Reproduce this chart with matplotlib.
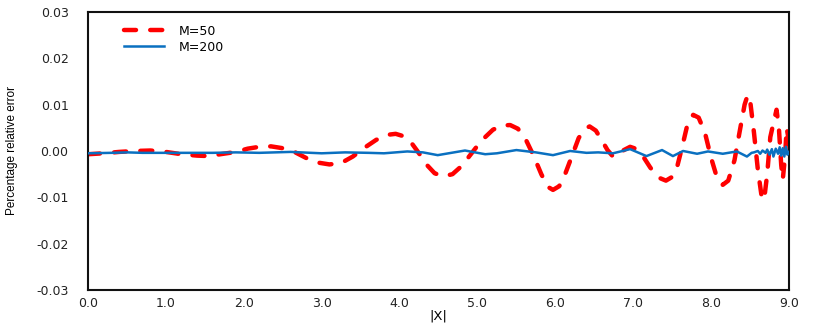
import matplotlib
matplotlib.use("Agg")
import matplotlib.pyplot as plt
from matplotlib.ticker import FixedLocator, FuncFormatter

# ---- data ----
m50_x = [0.0, 0.2, 0.4, 0.6, 0.8, 1.0, 1.2, 1.4, 1.55, 1.7, 1.9, 2.05, 2.2, 2.35, 2.5,
         2.65, 2.8, 2.95, 3.1, 3.25, 3.4, 3.55, 3.7, 3.85, 3.95, 4.05, 4.15, 4.25, 4.35,
         4.45, 4.56, 4.68, 4.8, 4.92, 5.05, 5.2, 5.32, 5.42, 5.52, 5.62, 5.72, 5.82, 5.9,
         5.97, 6.05, 6.13, 6.22, 6.3, 6.38, 6.44, 6.52, 6.6, 6.67, 6.74, 6.8, 6.88, 6.96,
         7.03, 7.12, 7.22, 7.32, 7.42, 7.5, 7.57, 7.63, 7.7, 7.77, 7.84, 7.92, 8.0, 8.08,
         8.15, 8.22, 8.3, 8.37, 8.43, 8.47, 8.5, 8.55, 8.6, 8.65, 8.68, 8.72, 8.76, 8.8,
         8.84, 8.87, 8.9, 8.92, 8.95, 8.97, 8.99, 9.0]
m50_y = [-0.0007, -0.0005, -0.0002, 0.0, 0.0001, -0.0002, -0.0007, -0.0010, -0.0011,
         -0.0007, -0.0002, 0.0005, 0.0009, 0.0010, 0.0006, -0.0002, -0.0015, -0.0025,
         -0.0029, -0.0026, -0.0012, 0.0007, 0.0024, 0.0035, 0.0037, 0.0032, 0.0018,
         -0.0005, -0.0030, -0.0048, -0.0055, -0.0050, -0.0032, -0.0006, 0.0022, 0.0046,
         0.0055, 0.0056, 0.0048, 0.0025, -0.0010, -0.0050, -0.0077, -0.0084, -0.0076,
         -0.0048, -0.0008, 0.0028, 0.0048, 0.0053, 0.0044, 0.0022, 0.0002, -0.0012,
         -0.0010, 0.0002, 0.0009, 0.0005, -0.0010, -0.0036, -0.0057, -0.0064, -0.0056,
         -0.0030, 0.0010, 0.0060, 0.0078, 0.0072, 0.0040, -0.0015, -0.0060, -0.0073,
         -0.0064, -0.0020, 0.0045, 0.0100, 0.0121, 0.0110, 0.0040, -0.0040, -0.0100,
         -0.0106, -0.0050, 0.0030, 0.0060, 0.0089, 0.0050, -0.0030, -0.0062, -0.0010,
         0.0050, 0.0030, -0.0010]

m200_x = [0.0, 0.3, 0.5, 0.7, 1.0, 1.3, 1.6, 1.9, 2.2, 2.6, 3.0, 3.3, 3.6, 3.8, 4.1,
          4.3, 4.49, 4.84, 5.1, 5.25, 5.5, 5.75, 5.97, 6.19, 6.4, 6.55, 6.74, 6.96, 7.17,
          7.37, 7.51, 7.64, 7.82, 7.96, 8.15, 8.33, 8.46, 8.52, 8.55, 8.6, 8.63, 8.66,
          8.7, 8.72, 8.75, 8.78, 8.8, 8.83, 8.86, 8.88, 8.9, 8.92, 8.94, 8.96, 8.98, 9.0]
m200_y = [-0.0005, -0.0004, -0.0003, -0.0004, -0.0004, -0.0004, -0.0004, -0.0003,
          -0.0004, -0.0002, -0.0005, -0.0003, -0.0004, -0.0005, -0.0001, -0.0003,
          -0.0009, 0.0001, -0.0007, -0.0005, 0.0002, -0.0003, -0.0009, 0.0000, -0.0004,
          -0.0003, -0.0005, 0.0004, -0.0011, 0.0002, -0.0011, 0.0000, -0.0006, -0.0001,
          -0.0006, -0.0001, -0.0012, -0.0004, -0.0003, 0.0000, -0.0006, 0.0001, -0.0004,
          0.0003, -0.0008, 0.0004, -0.0012, 0.0005, -0.0006, 0.0008, -0.0010, 0.0006,
          -0.0012, 0.0009, -0.0008, -0.0002]

x_ticks = [0, 1, 2, 3, 4, 5, 6, 7, 8, 9]
y_ticks = [-0.03, -0.02, -0.01, 0.0, 0.01, 0.02, 0.03]
series_labels = ["M=50", "M=200"]

# ---- figure ----
fig = plt.figure(figsize=(8.3, 3.24), dpi=100)
ax = fig.add_axes([0.106, 0.105, 0.8446, 0.858])

ax.plot(m50_x, m50_y, color="#ff0000", lw=3.2, dashes=(2.7, 3.2),
        dash_capstyle="round", label=series_labels[0], zorder=2)
ax.plot(m200_x, m200_y, color="#0a70c0", lw=1.8, label=series_labels[1], zorder=3)

ax.set_xlim(0, 9)
ax.set_ylim(-0.03, 0.03)
ax.xaxis.set_major_locator(FixedLocator(x_ticks))
ax.yaxis.set_major_locator(FixedLocator(y_ticks))
ax.xaxis.set_major_formatter(FuncFormatter(lambda v, p: f"{v:.1f}"))
ax.yaxis.set_major_formatter(FuncFormatter(lambda v, p: f"{v:.2f}".replace("\u2212", "-")))
ax.tick_params(axis="both", length=0, labelsize=9, colors="#222222")
ax.tick_params(axis="y", pad=14)
ax.tick_params(axis="x", pad=5)

for s in ax.spines.values():
    s.set_color("#111111")
    s.set_linewidth(1.5)

ax.set_ylabel("Percentage relative error", family=["Liberation Sans", "DejaVu Sans"],
              fontsize=8.5, labelpad=13)
ax.set_xlabel("|X|", fontsize=9.5, labelpad=0)

leg = ax.legend(loc="upper left", bbox_to_anchor=(0.035, 0.995), frameon=False,
                fontsize=9, handlelength=3.2, handletextpad=1.2, labelspacing=0.25)

fig.savefig("out.png", dpi=100)
